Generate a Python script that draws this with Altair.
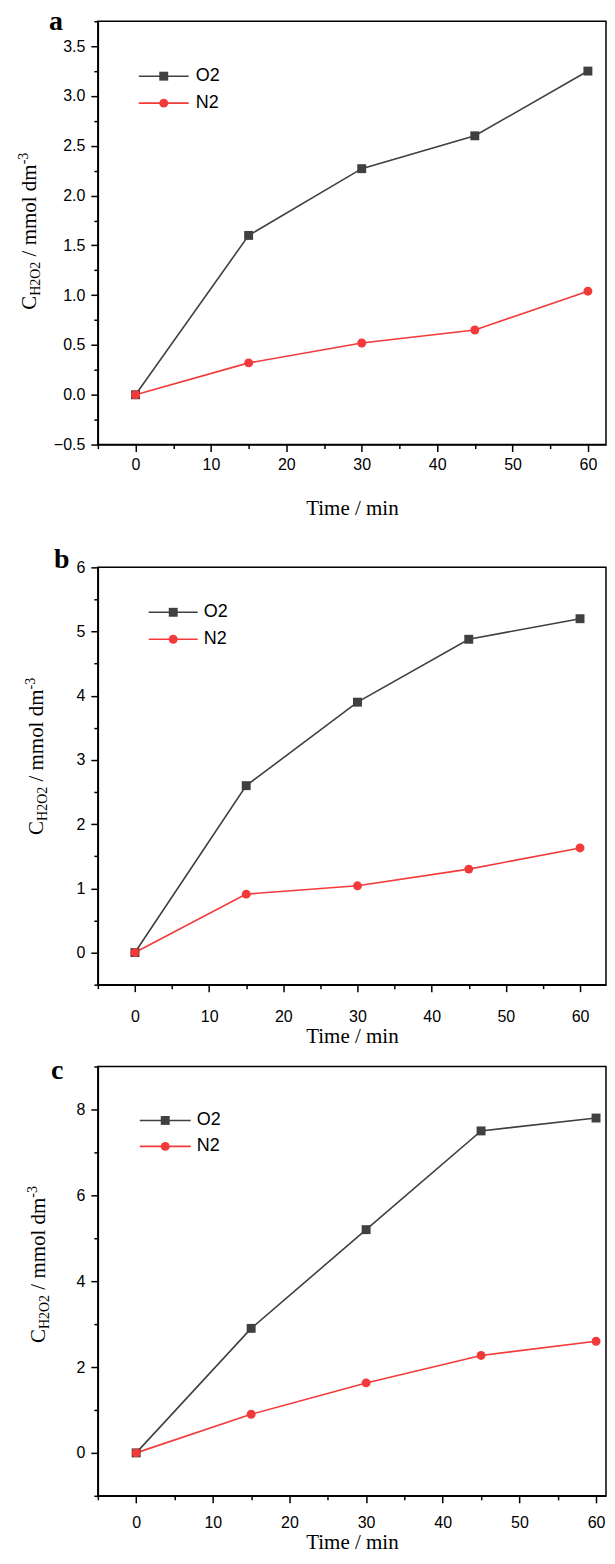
import altair as alt
import pandas as pd

# ---------------- data ----------------
time_min = [0, 15, 30, 45, 60]
series = ["O2", "N2"]
a_o2 = [0.0, 1.60, 2.27, 2.60, 3.25]
a_n2 = [0.0, 0.32, 0.52, 0.65, 1.04]
b_o2 = [0.0, 2.60, 3.90, 4.88, 5.20]
b_n2 = [0.0, 0.91, 1.04, 1.30, 1.63]
c_o2 = [0.0, 2.90, 5.20, 7.50, 7.80]
c_n2 = [0.0, 0.90, 1.63, 2.27, 2.60]
panel_letters = ["a", "b", "c"]
x_title = "Time / min"
y_title_parts = ["C", "H2O2", "/ mmol dm", "-3"]

GRAY = "#404040"
RED = "#f33a3a"
SERIF = "Liberation Serif"
SANS = "Liberation Sans"
W = 509

# Times New Roman advance widths (em)
TW = {"C": .667, "H": .722, "2": .5, "O": .722, " ": .25, "/": .278, "m": .778,
      "o": .5, "l": .278, "d": .5, "-": .333, "3": .5}


def tw(s, size):
    return sum(TW.get(ch, .5) for ch in s) * size


def panel(letter, o2, n2, ydom, ystep, yfmt, xmax, height,
          leg, ytitle, letpos, lab_pad, tit_pad, pin):
    df = pd.DataFrame({
        "time": time_min * 2,
        "value": o2 + n2,
        "series": ["O2"] * len(o2) + ["N2"] * len(n2),
    })
    color = alt.Color("series:N", scale=alt.Scale(domain=series, range=[GRAY, RED]), legend=None)
    shape = alt.Shape("series:N", scale=alt.Scale(domain=series, range=["square", "circle"]), legend=None)

    xvals = list(range(-5, int(xmax) + 1, 5))
    xaxis = alt.Axis(
        values=xvals,
        labelExpr="datum.value % 10 === 0 ? datum.label : ''",
        tickSize={"condition": {"test": "datum.value % 10 === 0", "value": 7}, "value": 4},
        labelOverlap=False, labelPadding=lab_pad, titlePadding=tit_pad,
        labelFlush=False,
    )
    n = int(round((ydom[1] - ydom[0]) / (ystep / 2)))
    yvals = [round(ydom[0] + i * ystep / 2, 4) for i in range(n + 1)]
    test = f"abs(datum.value/{ystep} - round(datum.value/{ystep})) < 0.001"
    yaxis = alt.Axis(
        values=yvals,
        labelExpr=f"{test} ? format(datum.value, '{yfmt}') : ''",
        tickSize={"condition": {"test": test, "value": 7}, "value": 4},
        labelOverlap=False, labelPadding=6, title=None, labelFlush=False,
    )
    x = alt.X("time:Q", scale=alt.Scale(domain=[-5, xmax], nice=False, zero=False),
              axis=xaxis, title=x_title)
    y = alt.Y("value:Q", scale=alt.Scale(domain=ydom, nice=False, zero=False), axis=yaxis)

    base = alt.Chart(df)
    lines = base.mark_line(strokeWidth=1.6).encode(x=x, y=y, color=color, detail="series:N")
    points = base.mark_point(filled=True, size=80, opacity=1).encode(x=x, y=y, color=color, shape=shape)
    data_layer = alt.layer(lines, points)

    # inline legend
    lx0, lx1, ly0, ly1, ltx = leg
    leg_df = pd.DataFrame({"series": series})
    leg_y = alt.Y("series:N", scale=alt.Scale(type="point", domain=series, range=[ly0, ly1], padding=0), axis=None)
    leg_rule = alt.Chart(leg_df).mark_rule(strokeWidth=1.6).encode(
        x=alt.value(lx0), x2=alt.value(lx1), y=leg_y, color=color)
    leg_pt = alt.Chart(leg_df).mark_point(filled=True, size=80, opacity=1).encode(
        x=alt.value((lx0 + lx1) / 2), y=leg_y, color=color, shape=shape)
    leg_txt = alt.Chart(leg_df).mark_text(align="left", baseline="middle", font=SANS, fontSize=18,
                                          color="black").encode(
        x=alt.value(ltx), y=leg_y, text="series:N")
    legend_layer = alt.layer(leg_rule, leg_pt, leg_txt)

    # y-axis title with subscript / superscript
    bx, ybot = ytitle
    big, small = 21, 14
    sizes = [big, small, big, small]
    shifts = [0, 4, 0, -8]
    gaps = [0, 0, tw(" ", big), 0]
    title_layers = []
    pos = ybot
    for part, sz, sh, gp in zip(y_title_parts, sizes, shifts, gaps):
        pos -= gp
        t = alt.Chart(pd.DataFrame({"t": [part]})).mark_text(
            angle=270, align="left", baseline="alphabetic", font=SERIF, fontSize=sz, color="black"
        ).encode(x=alt.value(bx + sh), y=alt.value(pos), text="t:N")
        title_layers.append(t)
        pos -= tw(part, sz)

    lx, lyb = letpos
    let = alt.Chart(pd.DataFrame({"t": [letter]})).mark_text(
        align="left", baseline="alphabetic", font=SERIF, fontSize=28, fontWeight="bold", color="black"
    ).encode(x=alt.value(lx), y=alt.value(lyb), text="t:N")

    # invisible rules fixing the extent of the panel
    ptop, pbot = pin
    pin_v = alt.Chart(pd.DataFrame({"t": [0]})).mark_rule(opacity=0, strokeWidth=0.1).encode(
        x=alt.value(0), y=alt.value(-ptop), y2=alt.value(height + pbot))
    pin_h = alt.Chart(pd.DataFrame({"t": [0]})).mark_rule(opacity=0, strokeWidth=0.1).encode(
        x=alt.value(-90), x2=alt.value(0), y=alt.value(height / 2))

    return alt.layer(data_layer, legend_layer, *title_layers, let, pin_v, pin_h).resolve_scale(
        y="independent").properties(width=W, height=height)


pa = panel(panel_letters[0], a_o2, a_n2, [-0.5, 3.75], 0.5, ".1f", 62.4, 424,
           (41, 91, 55, 82, 98), (-62, 289), (-49, 9), 5, 25, (30, 91))
pb = panel(panel_letters[1], b_o2, b_n2, [-0.5, 6], 1, "d", 63.5, 418,
           (51, 100, 45, 72, 106), (-55, 268), (-44, 1), 17, 1, (30, 59))
pc = panel(panel_letters[2], c_o2, c_n2, [-1, 9], 2, "d", 61.3, 430,
           (42, 93, 54, 80, 99), (-53, 277), (-47, 12), 12, 1, (18, 60))

chart = alt.vconcat(pa, pb, pc, spacing=0).properties(
    padding={"left": -1, "top": -19, "right": 0, "bottom": -4}
).configure_view(stroke="black", strokeWidth=1.5).configure_axis(
    domainColor="black", domainWidth=1.5, tickColor="black", tickWidth=1.5,
    labelFont=SANS, labelFontSize=16, labelColor="black",
    titleFont=SERIF, titleFontSize=21, titleFontWeight="normal", titleColor="black",
    grid=False,
)

chart.save("out.html", embed_options={"renderer": "svg", "actions": False})
